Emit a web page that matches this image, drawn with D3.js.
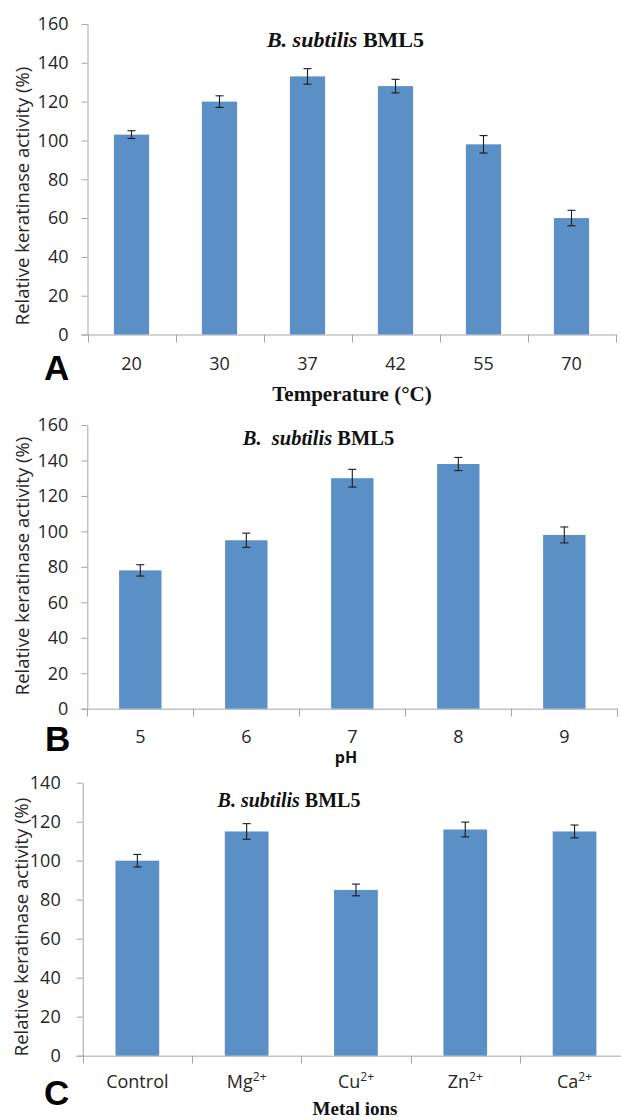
<!DOCTYPE html>
<html><head><meta charset="utf-8">
<script src="https://cdn.jsdelivr.net/npm/d3@7/dist/d3.min.js"></script>
<style>body{margin:0;background:#fff}svg{display:block}</style>
</head><body>
<svg id="c" width="621" height="1120"></svg>
<script>
// ---- data ----
const tempCategories = ["20","30","37","42","55","70"];
const tempValues = [103,120,133,128,98,60];
const tempErrors = [2,3,4,3.5,4.5,4];

const phCategories = ["5","6","7","8","9"];
const phValues = [78,95,130,138,98];
const phErrors = [3.2,4,5,3.7,4.5];

const metalCategories = ["Control","Mg","Cu","Zn","Ca"];
const metalSuperscripts = ["","2+","2+","2+","2+"];
const metalValues = [100,115,85,116,115];
const metalErrors = [3.2,4,3,3.8,3.3];

const ticks160 = [0,20,40,60,80,100,120,140,160];
const ticks140 = [0,20,40,60,80,100,120,140];

const yLabel = "Relative keratinase activity (%)";
const speciesItalic = "B. subtilis";
const strainBold = "BML5";

// ---- drawing ----
const svg = d3.select("#c");
const BAR = "#5b90c6", AXIS = "#a6a6a6", TXT = "#262626";
const sans = "'Open Sans', sans-serif";
const serif = "'Liberation Serif', 'Times New Roman', serif";

function panel(cfg){
  const g = svg.append("g");
  const x = d3.scaleBand().domain(cfg.categories)
      .range([cfg.x0, cfg.x0 + cfg.step*cfg.categories.length])
      .paddingInner(0.6).paddingOuter(0.3);
  const y = d3.scaleLinear().domain([0, cfg.yMax]).range([cfg.y0, cfg.y1]);

  // y axis
  const ya = g.append("g").attr("transform", `translate(${cfg.x0},0)`)
    .call(d3.axisLeft(y).tickValues(cfg.ticks).tickSize(6).tickPadding(cfg.tickPad).tickSizeOuter(0));
  ya.select(".domain").attr("stroke", AXIS);
  ya.selectAll(".tick line").attr("stroke", AXIS);
  ya.selectAll(".tick text").attr("fill", TXT).attr("font-family", sans).attr("font-size", 18);

  // x axis line & boundary ticks
  g.append("line").attr("x1", cfg.x0-6).attr("x2", Math.min(621, cfg.x0 + cfg.step*cfg.categories.length))
    .attr("y1", cfg.y0+0.5).attr("y2", cfg.y0+0.5).attr("stroke", AXIS);
  d3.range(cfg.categories.length+1).forEach(i=>{
    const xx = Math.round(x.range()[0] + i*x.step()) + 0.5;
    g.append("line").attr("x1", xx).attr("x2", xx).attr("y1", cfg.y0).attr("y2", cfg.y0+8).attr("stroke", AXIS);
  });

  // bars
  g.selectAll("rect.bar").data(cfg.values).join("rect").attr("class","bar")
    .attr("x", (d,i)=>x(cfg.categories[i]))
    .attr("width", x.bandwidth())
    .attr("y", d=>y(d))
    .attr("height", d=>cfg.y0 - y(d))
    .attr("fill", BAR);

  // error bars
  const eb = g.selectAll("g.err").data(cfg.values).join("g").attr("class","err")
    .attr("stroke", "#1a1a1a").attr("stroke-width", 1.1);
  eb.each(function(d,i){
    const cx = x(cfg.categories[i]) + x.bandwidth()/2;
    const e = cfg.errors[i];
    const s = d3.select(this);
    s.append("line").attr("x1",cx).attr("x2",cx).attr("y1",y(d+e)).attr("y2",y(d-e));
    s.append("line").attr("x1",cx-4).attr("x2",cx+4).attr("y1",y(d+e)).attr("y2",y(d+e));
    s.append("line").attr("x1",cx-4).attr("x2",cx+4).attr("y1",y(d-e)).attr("y2",y(d-e));
  });

  // x category labels
  cfg.categories.forEach((c,i)=>{
    const t = g.append("text").attr("x", x(c)+x.bandwidth()/2).attr("y", cfg.labelY)
      .attr("text-anchor","middle").attr("font-family", sans).attr("font-size", 18).attr("fill", TXT).text(c);
    if (cfg.sups && cfg.sups[i]) {
      t.append("tspan").attr("font-size", 12).attr("dy", -7).text(cfg.sups[i]);
    }
  });

  // title
  const tt = g.append("text").attr("x", cfg.titleX).attr("y", cfg.titleY).attr("text-anchor","middle")
    .attr("font-family", serif).attr("font-size", cfg.titleSize).attr("font-weight","bold").attr("fill","#111")
    .attr("xml:space","preserve");
  tt.append("tspan").attr("font-style","italic").text(cfg.italic);
  tt.append("tspan").text(" " + strainBold);

  // y label
  g.append("text").attr("transform", `translate(${cfg.ylabX},${cfg.ylabY}) rotate(-90)`)
    .attr("text-anchor","middle").attr("font-family", sans).attr("font-size", 18.5).attr("fill", TXT).text(yLabel);

  // x title
  g.append("text").attr("x", cfg.xtitleX).attr("y", cfg.xtitleY).attr("text-anchor","middle")
    .attr("font-family", cfg.xtitleFont).attr("font-size", cfg.xtitleSize).attr("font-weight","bold").attr("fill","#111")
    .text(cfg.xtitle);

  // panel letter
  g.append("text").attr("x", cfg.letterX).attr("y", cfg.letterY)
    .attr("font-family", "'Liberation Sans', Arial, sans-serif").attr("font-size", 35).attr("font-weight","bold")
    .attr("fill","#000").text(cfg.letter);
}

panel({categories: tempCategories, values: tempValues, errors: tempErrors,
  x0: 87.5, step: 88, y0: 334.5, y1: 24, yMax: 160, ticks: ticks160, tickPad: 13,
  labelY: 370, titleX: 345.5, titleY: 47, titleSize: 22, italic: speciesItalic,
  ylabX: 29, ylabY: 196, xtitle: "Temperature (°C)", xtitleX: 352, xtitleY: 401, xtitleSize: 21, xtitleFont: serif,
  letter: "A", letterX: 44, letterY: 380});

panel({categories: phCategories, values: phValues, errors: phErrors,
  x0: 87.3, step: 106, y0: 708.7, y1: 425, yMax: 160, ticks: ticks160, tickPad: 13,
  labelY: 743, titleX: 318.5, titleY: 445, titleSize: 20.5, italic: "B.  subtilis",
  ylabX: 29, ylabY: 566, xtitle: "pH", xtitleX: 346, xtitleY: 763.3, xtitleSize: 16, xtitleFont: sans,
  letter: "B", letterX: 45, letterY: 751});

panel({categories: metalCategories, sups: metalSuperscripts, values: metalValues, errors: metalErrors,
  x0: 82.7, step: 109.3, y0: 1055.7, y1: 782.7, yMax: 140, ticks: ticks140, tickPad: 16,
  labelY: 1088, titleX: 289, titleY: 807.3, titleSize: 20, italic: speciesItalic,
  ylabX: 28, ylabY: 927, xtitle: "Metal ions", xtitleX: 355, xtitleY: 1115, xtitleSize: 19, xtitleFont: serif,
  letter: "C", letterX: 44, letterY: 1105});
</script>
</body></html>
